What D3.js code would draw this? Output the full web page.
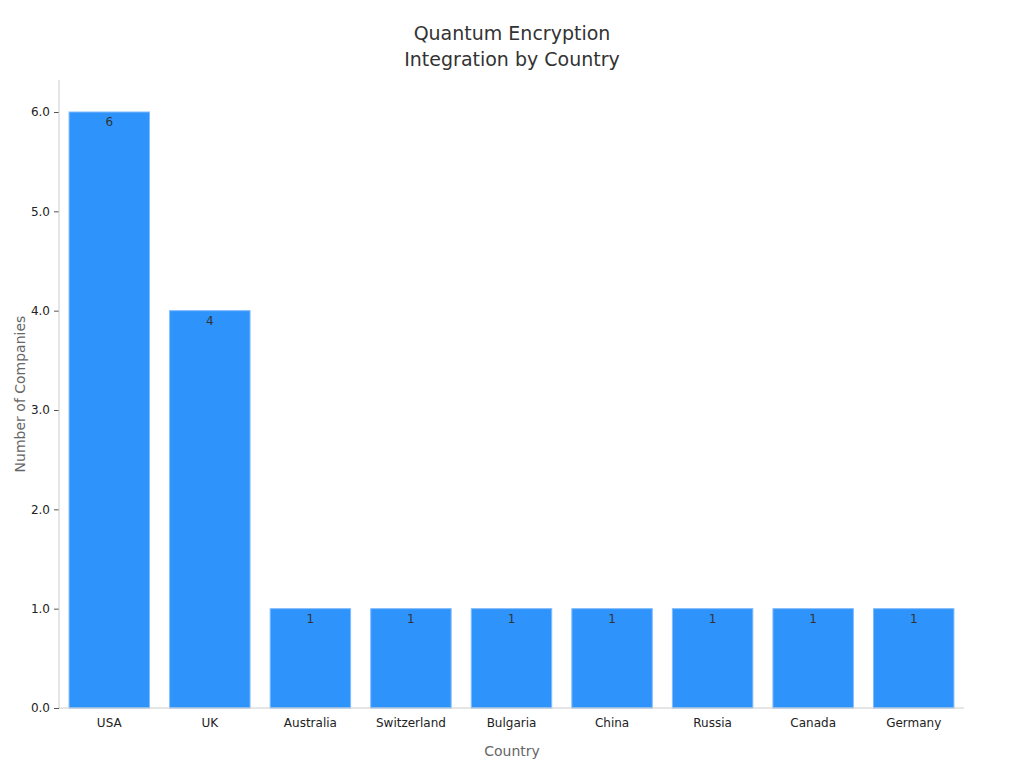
<!DOCTYPE html>
<html><head><meta charset="utf-8">
<script src="https://cdn.jsdelivr.net/npm/d3@7"></script>
<style>body{margin:0;background:#fff;font-family:"DejaVu Sans",sans-serif}</style>
</head><body><svg id="c" width="1024" height="768"></svg>
<script>
const countries=["USA","UK","Australia","Switzerland","Bulgaria","China","Russia","Canada","Germany"];
const companies=[6,4,1,1,1,1,1,1,1];
const yTicks=[0,1,2,3,4,5,6];
const svg=d3.select("#c");
const L=59,R=964,T=80,B=708;
const x=d3.scaleBand().domain(countries).range([L,R]).paddingInner(0.2).paddingOuter(0.1);
const y=d3.scaleLinear().domain([0,6]).range([B,112]);
svg.append("text").attr("x",512).attr("y",40).attr("text-anchor","middle").attr("font-size",19).attr("fill","#333").text("Quantum Encryption");
svg.append("text").attr("x",512).attr("y",66).attr("text-anchor","middle").attr("font-size",19).attr("fill","#333").text("Integration by Country");
svg.selectAll("rect.b").data(countries).join("rect").attr("class","b")
 .attr("x",d=>x(d)).attr("width",x.bandwidth()).attr("y",(d,i)=>y(companies[i])).attr("height",(d,i)=>B-y(companies[i]))
 .attr("fill","#2E93FA").attr("stroke","#7fbcff").attr("stroke-width",1);
svg.selectAll("text.v").data(countries).join("text").attr("class","v")
 .attr("x",d=>x(d)+x.bandwidth()/2).attr("y",(d,i)=>y(companies[i])+14).attr("text-anchor","middle")
 .attr("font-size",12).attr("fill","#333").text((d,i)=>companies[i]);
const ya=svg.append("g").attr("transform",`translate(${L},0)`).call(d3.axisLeft(y).tickValues(yTicks).tickSize(5).tickPadding(4));
ya.select(".domain").remove();
ya.selectAll("line").attr("stroke","#555");
ya.selectAll("text").attr("font-size",12).attr("fill","#222").attr("font-family","DejaVu Sans");
svg.append("line").attr("x1",L).attr("x2",L).attr("y1",T).attr("y2",B).attr("stroke","#ccc");
svg.append("line").attr("x1",L).attr("x2",R).attr("y1",B).attr("y2",B).attr("stroke","#ccc");
const xa=svg.append("g").attr("transform",`translate(0,${B})`).call(d3.axisBottom(x).tickSize(0).tickPadding(10));
xa.select(".domain").remove();
xa.selectAll("text").attr("font-size",12).attr("fill","#222").attr("font-family","DejaVu Sans");
svg.append("text").attr("x",512).attr("y",756).attr("text-anchor","middle").attr("font-size",14).attr("fill","#666").text("Country");
svg.append("text").attr("transform","translate(25,394) rotate(-90)").attr("text-anchor","middle").attr("font-size",14).attr("fill","#666").text("Number of Companies");
</script></body></html>
